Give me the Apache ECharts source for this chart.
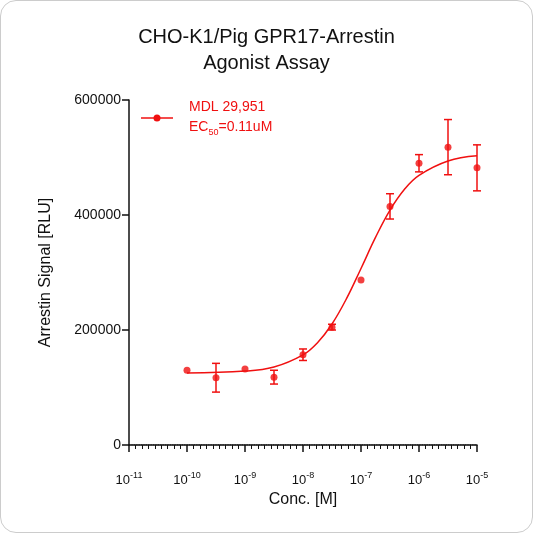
<!DOCTYPE html>
<html><head><meta charset="utf-8">
<script src="https://cdn.jsdelivr.net/npm/echarts@6/dist/echarts.min.js"></script>
<style>
html,body{margin:0;padding:0;background:#fff;}
#c{width:531px;height:531px;border:1px solid #ccc;border-radius:16px;overflow:hidden;}
</style></head><body>
<div id="c"></div>
<script>
// log10 concentration, mean signal, error
const logConc = [-10, -9.5, -9, -8.5, -8, -7.5, -7, -6.5, -6, -5.5, -5];
const signal = [130000, 117000, 132000, 118000, 157000, 205000, 287000, 415000, 490000, 518000, 482000];
const errors = [0, 25000, 0, 12000, 10000, 5000, 0, 22000, 15000, 48000, 40000];
// fitted curve
const curveX = [-10, -9, -8.5, -8, -7.75, -7.5, -7.25, -7, -6.75, -6.5, -6.25, -6, -5.5, -5];
const curveY = [125300, 128500, 135700, 156800, 178000, 210500, 254500, 307000, 361000, 408500, 444700, 469000, 494000, 503000];
const xTicks = [-11, -10, -9, -8, -7, -6, -5];
const zeroLine = [[-11, 0], [-5, 0]];

const red = '#f01010';
const chart = echarts.init(document.getElementById('c'));
chart.setOption({
  animation: false,
  textStyle: { fontFamily: 'Liberation Sans, Arial' },
  title: {
    text: 'CHO-K1/Pig GPR17-Arrestin\nAgonist Assay',
    left: 'center', top: 18,
    textStyle: { fontSize: 20, fontWeight: 'normal', color: '#111', lineHeight: 26 }
  },
  grid: { left: 128, right: 55, top: 99, bottom: 87 },
  xAxis: {
    type: 'value', min: -11, max: -5, interval: 1, offset: 16,
    name: 'Conc. [M]', nameLocation: 'middle', nameGap: 26,
    nameTextStyle: { fontSize: 16, color: '#111' },
    axisLine: { lineStyle: { color: '#111', width: 1.5 } },
    axisTick: { length: 7, lineStyle: { color: '#111', width: 1.5 } },
    minorTick: { show: true, splitNumber: 9, length: 4, lineStyle: { color: '#111' } },
    splitLine: { show: false },
    axisLabel: {
      color: '#111', margin: 10,
      formatter: v => xTicks.includes(v) ? '{b|10}{s|' + v + '}' : '',
      rich: { b: { fontSize: 13, color: '#111' }, s: { fontSize: 9, color: '#111', verticalAlign: 'top', padding: [0, 0, 9, 0] } }
    }
  },
  yAxis: {
    type: 'value', min: 0, max: 600000, interval: 200000,
    name: 'Arrestin Signal [RLU]', nameLocation: 'middle', nameGap: 75,
    nameTextStyle: { fontSize: 16, color: '#111' },
    axisLine: { show: true, lineStyle: { color: '#111', width: 1.5 } },
    axisTick: { show: true, length: 7, lineStyle: { color: '#111', width: 1.5 } },
    splitLine: { show: false },
    axisLabel: { color: '#111', fontSize: 14, formatter: v => String(v) }
  },
  series: [
    {
      type: 'line', data: zeroLine, showSymbol: false, silent: true, z: 1,
      lineStyle: { color: '#111', type: 'dotted', width: 1.2 }
    },
    {
      type: 'line', data: curveX.map((x, i) => [x, curveY[i]]),
      smooth: 0.4, showSymbol: false, lineStyle: { color: red, width: 1.5 }
    },
    {
      type: 'custom',
      data: logConc.map((x, i) => [x, signal[i], errors[i]]),
      renderItem: (params, api) => {
        const x = api.value(0), y = api.value(1), e = api.value(2);
        if (!e) return null;
        const hi = api.coord([x, y + e]), lo = api.coord([x, y - e]);
        const st = { stroke: red, lineWidth: 1.5 };
        return { type: 'group', children: [
          { type: 'line', shape: { x1: hi[0], y1: hi[1], x2: lo[0], y2: lo[1] }, style: st },
          { type: 'line', shape: { x1: hi[0] - 4, y1: hi[1], x2: hi[0] + 4, y2: hi[1] }, style: st },
          { type: 'line', shape: { x1: lo[0] - 4, y1: lo[1], x2: lo[0] + 4, y2: lo[1] }, style: st }
        ] };
      }
    },
    {
      type: 'scatter', data: logConc.map((x, i) => [x, signal[i]]),
      symbolSize: 7, itemStyle: { color: red }
    }
  ],
  graphic: [
    { type: 'line', shape: { x1: 140, y1: 117, x2: 172, y2: 117 }, style: { stroke: red, lineWidth: 1.5 } },
    { type: 'circle', shape: { cx: 156, cy: 117, r: 3.5 }, style: { fill: red } },
    { type: 'text', left: 188, top: 96, style: {
      text: 'MDL 29,951\n{a|EC}{s|50}{a|=0.11uM}', fill: red, fontSize: 14, lineHeight: 20,
      rich: { a: { fontSize: 14, fill: red }, s: { fontSize: 9, fill: red, verticalAlign: 'bottom', padding: [6, 0, 0, 0] } }
    } }
  ]
});
</script>
</body></html>
